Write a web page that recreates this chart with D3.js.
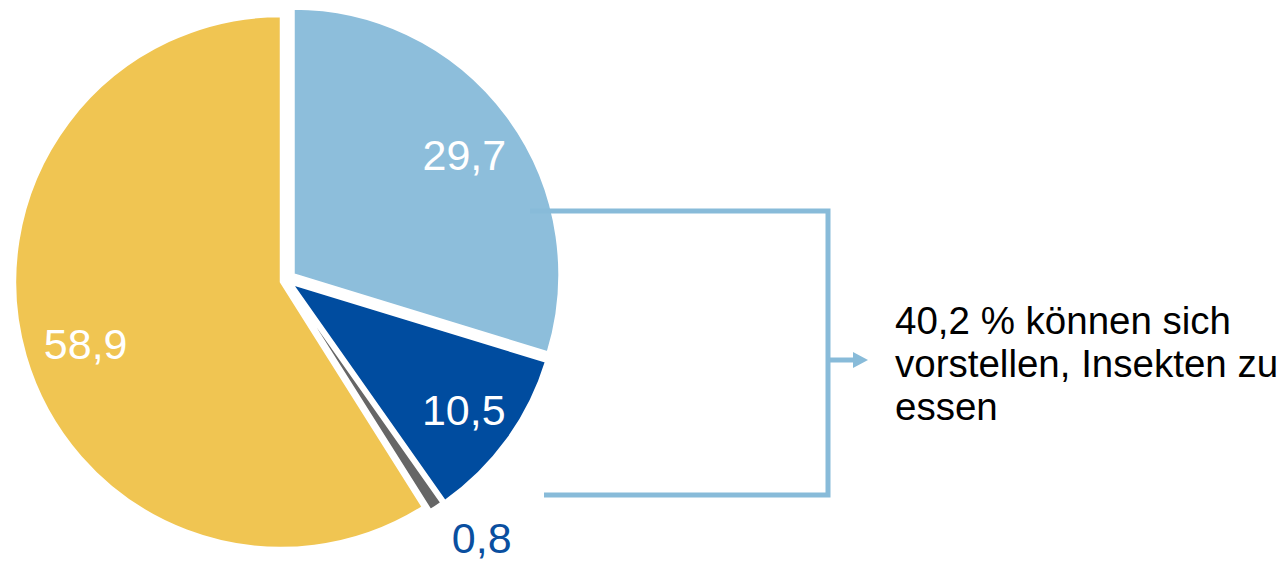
<!DOCTYPE html>
<html>
<head>
<meta charset="utf-8">
<script src="https://cdn.jsdelivr.net/npm/d3@7"></script>
<style>
body { margin: 0; background: #fff; }
svg { display: block; font-family: "Liberation Sans", Arial, sans-serif; }
</style>
</head>
<body>
<div class="chart"></div>
<script>
// slice values (percent), in clockwise order starting at 12 o'clock
const values = [29.7, 10.5, 0.8, 58.9];
const valueLabels = ["29,7", "10,5", "0,8", "58,9"];
const noteLines = ["40,2 % können sich", "vorstellen, Insekten zu", "essen"];

const colors = ["#8DBEDB", "#004C9F", "#666666", "#F0C552"];
const labelColors = ["#fff", "#fff", "#0A4FA0", "#fff"];
const outsideLabel = [false, false, true, false];
// exploded offsets of the blue slices
const offsets = [[12.5, -7.5], [10.8, 1.7], [7.5, 3.2], [0, 0]];

const w = 1283, h = 566,
cx = 281, cy = 282, r = 266,
lineColor = "#88BBD9";

const svg = d3.select(".chart")
.append("svg")
.attr("width", w)
.attr("height", h);

const pie = d3.pie().sort(null).value(d => d);
const arcs = pie(values);

const arc = d3.arc().innerRadius(0).outerRadius(r);
const labelArc = d3.arc().innerRadius(r * 0.78).outerRadius(r * 0.78);
const outArc = d3.arc().innerRadius(r * 1.14).outerRadius(r * 1.14);

const g = svg.append("g")
.attr("transform", "translate(" + cx + "," + cy + ")");

g.selectAll("path")
.data(arcs)
.enter()
.append("path")
.attr("d", arc)
.attr("transform", (d, i) => "translate(" + offsets[i][0] + "," + offsets[i][1] + ")")
.attr("fill", (d, i) => colors[i])
.attr("stroke", "#fff")
.attr("stroke-width", 2.5)
.attr("stroke-linejoin", "miter");

g.selectAll("text.val")
.data(arcs)
.enter()
.append("text")
.attr("class", "val")
.attr("transform", (d, i) => {
  const c = outsideLabel[i] ? outArc.centroid(d) : labelArc.centroid(d);
  return "translate(" + (c[0] + offsets[i][0]) + "," + (c[1] + offsets[i][1]) + ")";
})
.attr("text-anchor", "middle")
.attr("dx", (d, i) => outsideLabel[i] ? 25 : 4)
.attr("dy", (d, i) => outsideLabel[i] ? "0.36em" : "0.45em")
.attr("font-size", 43)
.attr("fill", (d, i) => labelColors[i])
.text((d, i) => valueLabels[i]);

// bracket grouping the two blue slices
const bx = 828, bTop = 211, bBottom = 495;
svg.append("path")
.attr("d", "M530," + bTop + "H" + bx + "V" + bBottom + "H544")
.attr("fill", "none")
.attr("stroke", lineColor)
.attr("stroke-width", 5);

const ay = 360;
svg.append("line")
.attr("x1", bx).attr("y1", ay)
.attr("x2", 855).attr("y2", ay)
.attr("stroke", lineColor)
.attr("stroke-width", 5);
svg.append("path")
.attr("d", "M853," + (ay - 8) + "L868," + ay + "L853," + (ay + 8) + "Z")
.attr("fill", lineColor);

svg.append("text")
.attr("x", 895)
.attr("y", 334)
.attr("font-size", 38.5)
.attr("fill", "#000")
.selectAll("tspan")
.data(noteLines)
.enter()
.append("tspan")
.attr("x", 895)
.attr("dy", (d, i) => i === 0 ? 0 : 43)
.text(d => d);
</script>
</body>
</html>
